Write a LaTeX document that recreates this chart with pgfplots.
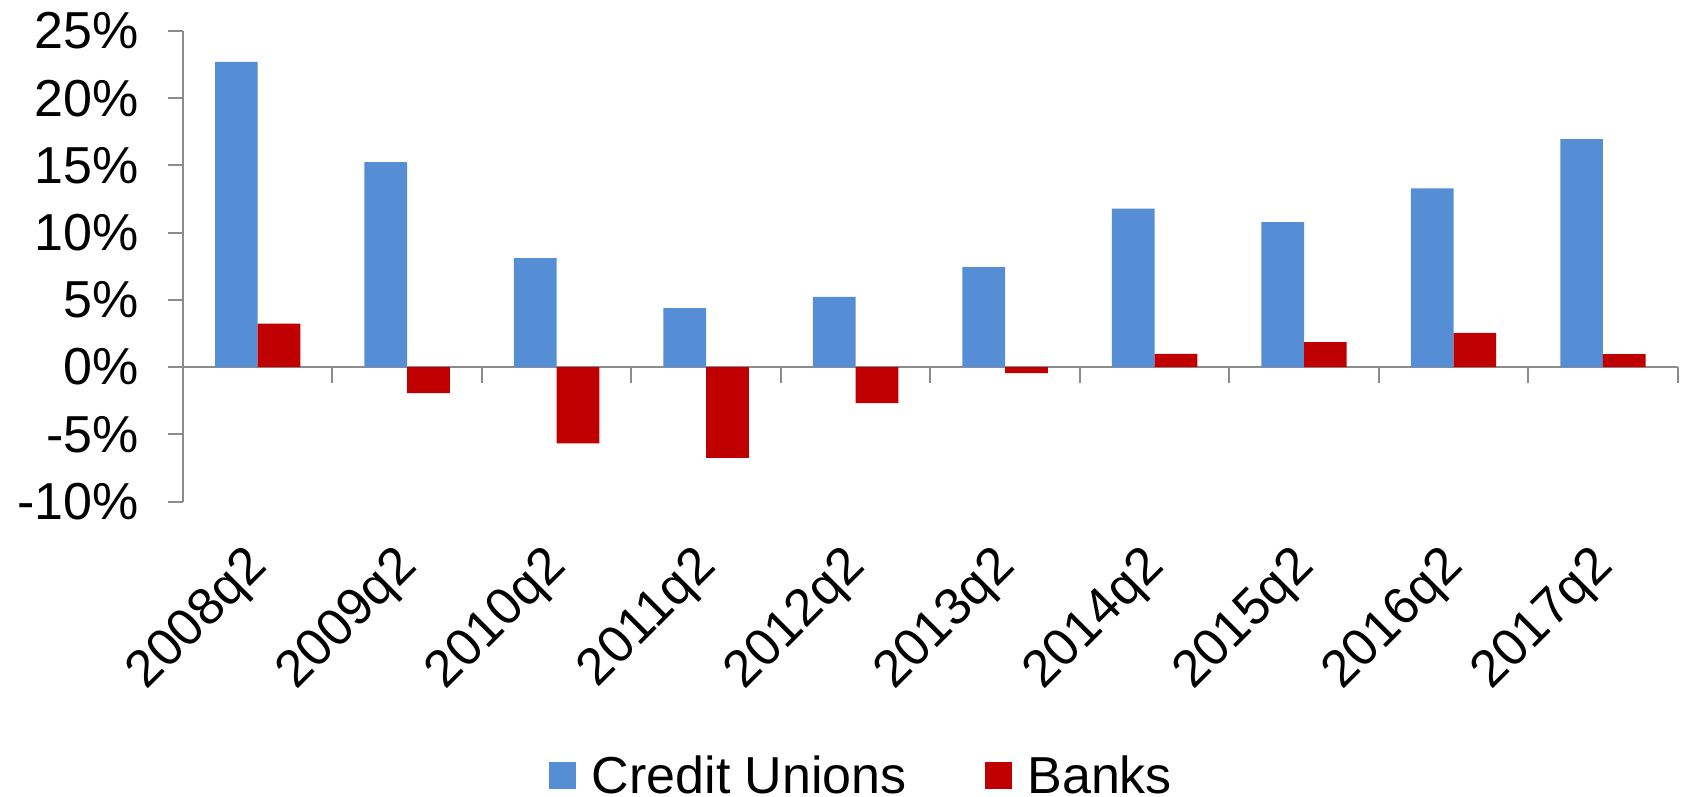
\documentclass[border=0pt]{standalone}
\usepackage{fontspec}
\setmainfont{Liberation Sans}
\usepackage{pgfplots}
\pgfplotsset{compat=1.18}
\usetikzlibrary{calc}
\definecolor{cublue}{RGB}{85,142,213}
\definecolor{bkred}{RGB}{192,0,0}
\definecolor{axgray}{RGB}{140,140,140}
\begin{document}
\begin{tikzpicture}
\begin{axis}[
  name=ax,
  scale only axis,
  width=747.5pt, height=235.3pt,
  xmin=-0.5, xmax=9.5, ymin=-10, ymax=25,
  axis x line=middle, axis y line=left,
  axis line style={axgray, line width=1pt, -},
  hide obscured x ticks=false, hide obscured y ticks=false,
  ytick={-10,-5,0,5,10,15,20,25},
  yticklabels={-10\%,-5\%,0\%,5\%,10\%,15\%,20\%,25\%},
  yticklabel style={font=\fontsize{26}{30}\selectfont, anchor=east, inner sep=0pt, xshift=-14.5pt},
  ytick align=outside,
  major y tick style={axgray, line width=1pt},
  major tick length=7.5pt,
  minor tick length=8pt,
  xtick={0,1,2,3,4,5,6,7,8,9},
  xticklabels={2008q2,2009q2,2010q2,2011q2,2012q2,2013q2,2014q2,2015q2,2016q2,2017q2},
  major x tick style={draw=none},
  minor xtick={-0.5,0.5,1.5,2.5,3.5,4.5,5.5,6.5,7.5,8.5,9.5},
  minor x tick style={axgray, line width=1pt},
  xtick align=outside,
  xticklabel style={font=\fontsize{26}{30}\selectfont, inner sep=0pt, anchor=north east, xshift=-7pt, yshift=-80pt, rotate=45},
  legend style={at={(0.2448,-0.5829)}, anchor=west, draw=none, fill=none, inner sep=0pt,
    nodes={inner sep=0pt},
    font=\fontsize{26}{30}\selectfont,
    /tikz/every odd column/.append style={column sep=7.8pt},
    /tikz/every even column/.append style={column sep=39pt}},
  legend columns=2,
  legend image code/.code={\fill[#1] (0pt,-6.75pt) rectangle (13.5pt,6.75pt);},
]
\addplot[ybar, bar width=21.35pt, bar shift=-10.675pt, fill=cublue, draw=none] coordinates {
  (0,22.7) (1,15.25) (2,8.1) (3,4.39) (4,5.23) (5,7.44) (6,11.78) (7,10.79) (8,13.3) (9,16.96)};
\addlegendentry{Credit Unions}
\addplot[ybar, bar width=21.35pt, bar shift=10.675pt, fill=bkred, draw=none] coordinates {
  (0,3.24) (1,-1.93) (2,-5.68) (3,-6.75) (4,-2.68) (5,-0.45) (6,0.99) (7,1.86) (8,2.55) (9,0.97)};
\addlegendentry{Banks}
\end{axis}
\pgfresetboundingbox
\path ($(ax.south west)+(-91.5pt,-147.65pt)$) rectangle ($(ax.north east)+(2.65pt,15.5pt)$);
\end{tikzpicture}
\end{document}
